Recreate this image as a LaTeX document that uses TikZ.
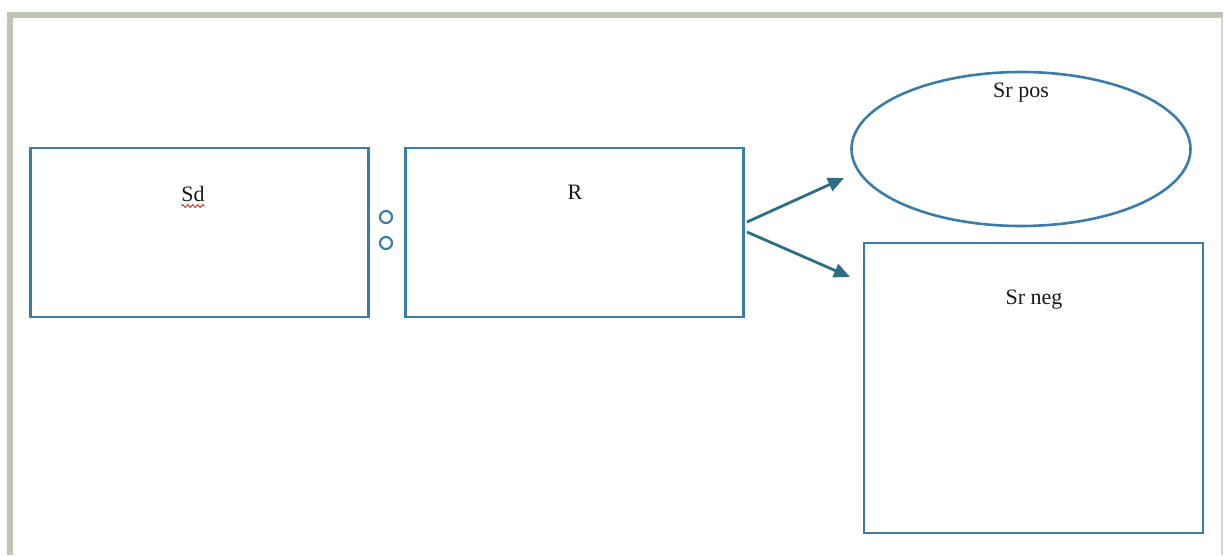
\documentclass[tikz,border=0pt]{standalone}
\usepackage{fontspec}
\setmainfont{Liberation Serif}
\usetikzlibrary{arrows.meta,decorations.pathmorphing,shapes.geometric}
\definecolor{frameC}{HTML}{BEC5B4}
\definecolor{frameL}{HTML}{D4D8CE}
\definecolor{lineC}{HTML}{3B7DA6}
\definecolor{arrowC}{HTML}{2E6E85}
\definecolor{spellC}{HTML}{D23A3A}
\tikzset{
  box/.style={draw=lineC, line width=2.8pt, rectangle, inner sep=0pt},
  oval/.style={draw=lineC, line width=2.6pt, ellipse, inner sep=0pt},
  label/.style={font=\fontsize{22}{26}\selectfont, text=black!90, inner sep=0pt},
  link/.style={draw=arrowC, line width=2.8pt, -{Triangle[length=16pt,width=14pt]}},
  dot/.style={draw=lineC, line width=2.2pt, circle, minimum size=12pt, inner sep=0pt}
}
\begin{document}
\begin{tikzpicture}[x=1pt,y=-1pt]
  \useasboundingbox (0,0) rectangle (1224,555);
  \fill[white] (0,0) rectangle (1224,555);
  % page frame
  \fill[frameC] (7,12) rectangle (1223,17.5);
  \fill[frameC] (7,12) rectangle (13,555);
  \fill[frameL] (1220.5,17) rectangle (1223,555);

  % boxes
  \node[box, minimum width=338pt, minimum height=169pt] (sd) at (199.5,232.5) {};
  \node[box, minimum width=338pt, minimum height=169pt] (r) at (574.5,232.5) {};
  \node[oval, minimum width=339pt, minimum height=154pt] (pos) at (1021,149) {};
  \node[box, minimum width=339pt, minimum height=290pt] (neg) at (1033.5,388) {};

  % labels
  \node[label, anchor=base] (sdt) at (193,201) {Sd};
  \node[label, anchor=base] (rt) at (575,199) {R};
  \node[label, anchor=base] (post) at (1021,97) {Sr pos};
  \node[label, anchor=base] (negt) at (1034,304) {Sr neg};
  \draw[spellC, line width=1pt, decorate,
        decoration={snake, amplitude=1.4pt, segment length=5pt}]
        ([yshift=-5pt]sdt.base west) -- ([yshift=-5pt]sdt.base east);

  % circles between the boxes
  \node[dot] (c1) at (386,217) {};
  \node[dot] (c2) at (386,243) {};

  % arrows out of R
  \coordinate (a1) at (747,222);
  \coordinate (b1) at (844,178);
  \coordinate (a2) at (747,232);
  \coordinate (b2) at (850,277);
  \draw[link] (a1) -- (b1);
  \draw[link] (a2) -- (b2);
\end{tikzpicture}
\end{document}
